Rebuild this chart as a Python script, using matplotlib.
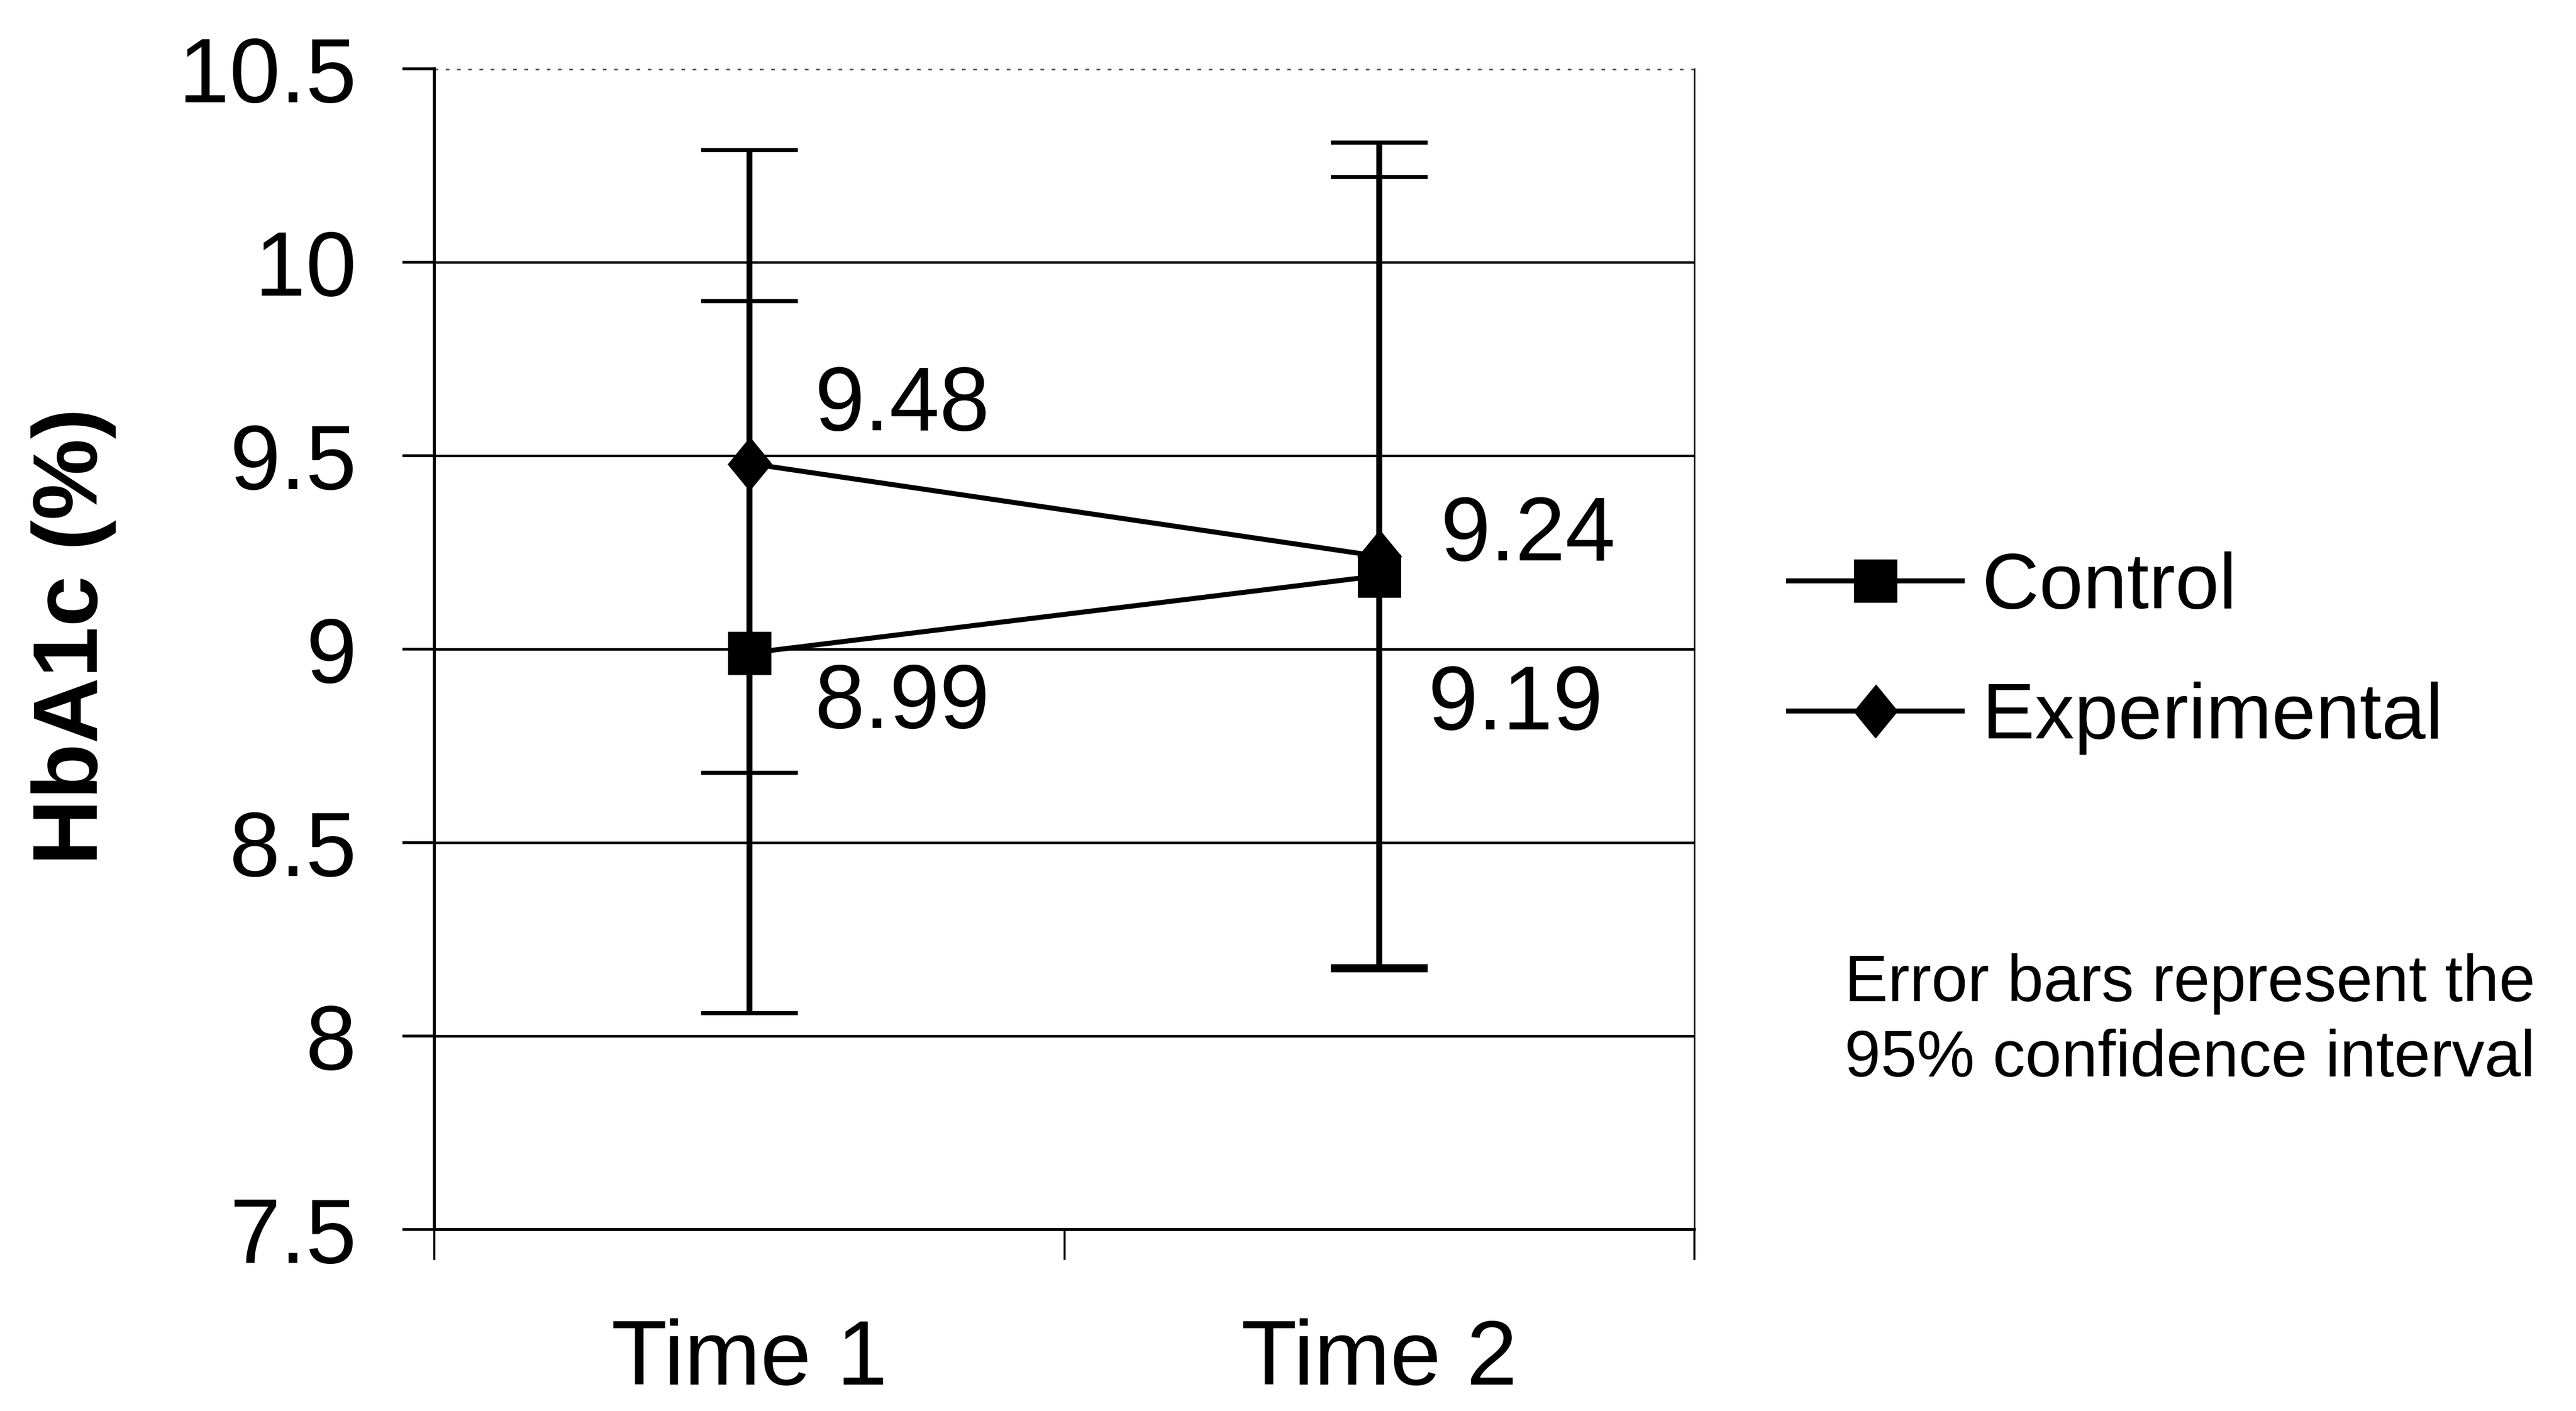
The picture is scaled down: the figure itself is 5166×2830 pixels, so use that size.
import matplotlib

matplotlib.use("Agg")
import matplotlib.pyplot as plt
import numpy

plt.rcParams["font.family"] = ["Liberation Sans", "DejaVu Sans"]

# Data
times = ["Time 1", "Time 2"]

control_mean = [8.99, 9.19]
control_ci_low = [8.06, 8.18]
control_ci_high = [9.90, 10.22]

experimental_mean = [9.48, 9.24]
experimental_ci_low = [8.68, 8.17]
experimental_ci_high = [10.29, 10.31]

y_ticks = [7.5, 8, 8.5, 9, 9.5, 10, 10.5]
y_tick_labels = ["7.5", "8", "8.5", "9", "9.5", "10", "10.5"]

# label offsets in points (dx, dy) for each point
control_label_offsets = [(47, -37), (35, -94)]
experimental_label_offsets = [(47, 41), (44, 14)]

DPI = 200
fig = plt.figure(figsize=(5166 / DPI, 2830 / DPI), dpi=DPI)
ax = fig.add_axes([0.1686, 0.1286, 0.4892, 0.8226])

x = numpy.arange(len(times))

diamond = [(0, 1), (0.82, 0), (0, -1), (-0.82, 0)]

for mean, lo, hi in [
    (control_mean, control_ci_low, control_ci_high),
    (experimental_mean, experimental_ci_low, experimental_ci_high),
]:
    mean = numpy.array(mean)
    yerr = [mean - numpy.array(lo), numpy.array(hi) - mean]
    ax.errorbar(
        x,
        mean,
        yerr=yerr,
        fmt="none",
        ecolor="black",
        elinewidth=4.2,
        capsize=35,
        capthick=3,
        zorder=3,
    )

ax.plot(
    x,
    control_mean,
    color="black",
    linewidth=3.6,
    marker="s",
    markersize=30,
    label="Control",
    zorder=4,
)
ax.plot(
    x,
    experimental_mean,
    color="black",
    linewidth=3.6,
    marker=diamond,
    markersize=38,
    label="Experimental",
    zorder=5,
)

# value labels
for xi, val, (dx, dy) in zip(x, control_mean, control_label_offsets):
    ax.annotate(
        f"{val:.2f}",
        (xi, val),
        xytext=(dx, dy),
        textcoords="offset points",
        ha="left",
        va="center",
        fontsize=65,
    )
for xi, val, (dx, dy) in zip(x, experimental_mean, experimental_label_offsets):
    ax.annotate(
        f"{val:.2f}",
        (xi, val),
        xytext=(dx, dy),
        textcoords="offset points",
        ha="left",
        va="center",
        fontsize=65,
    )

# axes
ax.set_xlim(-0.5, len(times) - 0.5)
ax.set_ylim(7.5, 10.5)

ax.set_yticks(y_ticks)
ax.set_yticklabels(y_tick_labels, fontsize=66)
ax.tick_params(axis="y", direction="out", length=23, width=2, pad=33)

ax.set_xticks(x)
ax.set_xticklabels(times, fontsize=66)
ax.set_xticks(numpy.arange(len(times) + 1) - 0.5, minor=True)
ax.tick_params(axis="x", which="major", length=0, pad=64)
ax.tick_params(axis="x", which="minor", direction="out", length=22, width=1.5)

ax.yaxis.grid(True, color="black", linewidth=1.8)
ax.set_axisbelow(True)
top_tick = ax.yaxis.get_major_ticks()[-1]
top_tick.gridline.set_linestyle((0, (1.5, 3)))
top_tick.gridline.set_color("#555555")

ax.spines["top"].set_visible(False)
ax.spines["left"].set_linewidth(2.2)
ax.spines["bottom"].set_linewidth(2.2)
ax.spines["right"].set_linewidth(1)

fig.text(
    0.0285,
    0.549,
    "HbA1c (%)",
    rotation=90,
    ha="center",
    va="center",
    fontsize=66,
    fontweight="bold",
)

leg = fig.legend(
    loc="center left",
    bbox_to_anchor=(0.679, 0.537),
    frameon=False,
    fontsize=57,
    borderpad=0,
    handlelength=2.2,
    handletextpad=0.25,
    labelspacing=0.72,
    numpoints=1,
)

fig.text(
    0.716,
    0.3245,
    "Error bars represent the\n95% confidence interval",
    ha="left",
    va="top",
    fontsize=47,
    linespacing=1.3,
)

fig.savefig("out.png", dpi=DPI, facecolor="white")
